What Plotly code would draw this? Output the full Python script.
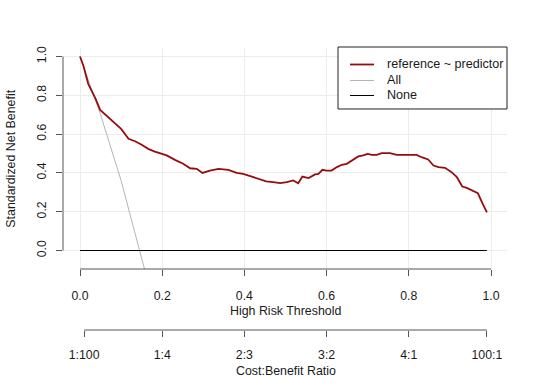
import plotly.graph_objects as go

# ---- data ----
threshold = [0, 0.008, 0.020, 0.028, 0.038, 0.049, 0.061, 0.073, 0.085, 0.100, 0.118, 0.134,
             0.150, 0.166, 0.182, 0.199, 0.211, 0.231, 0.251, 0.268, 0.284, 0.298, 0.316, 0.337,
             0.361, 0.381, 0.397, 0.418, 0.438, 0.453, 0.470, 0.487, 0.503, 0.519, 0.531, 0.541,
             0.556, 0.572, 0.580, 0.590, 0.600, 0.612, 0.625, 0.637, 0.649, 0.661, 0.677, 0.689,
             0.700, 0.710, 0.722, 0.734, 0.754, 0.771, 0.791, 0.819, 0.831, 0.847, 0.860, 0.872,
             0.888, 0.904, 0.917, 0.930, 0.941, 0.955, 0.968, 0.979, 0.990]
snb_model = [1.0, 0.954, 0.859, 0.825, 0.782, 0.725, 0.701, 0.679, 0.656, 0.627, 0.576, 0.563,
             0.545, 0.524, 0.510, 0.498, 0.490, 0.467, 0.447, 0.424, 0.421, 0.400, 0.412, 0.421,
             0.416, 0.400, 0.395, 0.381, 0.369, 0.356, 0.352, 0.347, 0.352, 0.361, 0.347, 0.381,
             0.373, 0.392, 0.395, 0.416, 0.412, 0.412, 0.430, 0.442, 0.447, 0.464, 0.485, 0.490,
             0.498, 0.493, 0.493, 0.502, 0.502, 0.493, 0.493, 0.493, 0.481, 0.469, 0.438, 0.430,
             0.426, 0.404, 0.378, 0.330, 0.323, 0.309, 0.295, 0.244, 0.197]
all_threshold = [0, 0.05, 0.10, 0.15, 0.20]
snb_all = [1.0, 0.70, 0.36, -0.016, -0.44]
none_threshold = [0, 0.99]
snb_none = [0, 0]

x_ticks = [0, 0.2, 0.4, 0.6, 0.8, 1.0]
x_ticktext = ["0.0", "0.2", "0.4", "0.6", "0.8", "1.0"]
y_ticks = [0, 0.2, 0.4, 0.6, 0.8, 1.0]
y_ticktext = ["0.0", "0.2", "0.4", "0.6", "0.8", "1.0"]
cb_ticks = [0.01, 0.2, 0.4, 0.6, 0.8, 0.99]
cb_ticktext = ["1:100", "1:4", "2:3", "3:2", "4:1", "100:1"]

series_names = ["reference ~ predictor", "All", "None"]
series_colors = ["#960d10", "#b4b4b4", "#000000"]
series_widths = [1.8, 1, 1]

FONT = "Liberation Sans, Arial, sans-serif"
TXT = "#1a1a1a"
AX = "#555555"
GRID = "#ececec"

fig = go.Figure()
fig.add_trace(go.Scatter(x=all_threshold, y=snb_all, mode="lines", name=series_names[1],
                         line=dict(color=series_colors[1], width=series_widths[1]),
                         showlegend=False, hoverinfo="skip"))
fig.add_trace(go.Scatter(x=none_threshold, y=snb_none, mode="lines", name=series_names[2],
                         line=dict(color=series_colors[2], width=series_widths[2]),
                         showlegend=False, hoverinfo="skip"))
fig.add_trace(go.Scatter(x=threshold, y=snb_model, mode="lines", name=series_names[0],
                         line=dict(color=series_colors[0], width=series_widths[0]),
                         showlegend=False, hoverinfo="skip"))
# invisible trace to carry the cost:benefit axis
fig.add_trace(go.Scatter(x=cb_ticks, y=[0] * len(cb_ticks), xaxis="x2", yaxis="y",
                         mode="markers", marker=dict(opacity=0), showlegend=False,
                         hoverinfo="skip"))

xr = [-0.0414, 1.0389]
yr = [-0.0953, 1.0438]

fig.update_layout(
    width=540, height=386,
    margin=dict(l=63, r=33, t=48, b=56),
    paper_bgcolor="white", plot_bgcolor="white",
    font=dict(family=FONT, size=12, color=TXT),
    showlegend=False,
    xaxis=dict(range=xr, anchor="y", tickvals=x_ticks, ticktext=x_ticktext,
               ticks="outside", ticklen=6, tickcolor=AX, tickwidth=1,
               showline=False, zeroline=False, showgrid=True, gridcolor=GRID,
               ticklabelstandoff=9, tickfont=dict(family=FONT, size=12.3, color=TXT)),
    yaxis=dict(range=yr, domain=[0.2163, 1], tickvals=y_ticks, ticktext=y_ticktext,
               ticks="outside", ticklen=6, tickcolor=AX, tickwidth=1, tickangle=-90,
               showline=False, zeroline=False, showgrid=True, gridcolor=GRID,
               ticklabelstandoff=5, tickfont=dict(family=FONT, size=12.3, color=TXT)),
    xaxis2=dict(range=xr, overlaying="x", anchor="free", position=0, side="bottom",
                tickvals=cb_ticks, ticktext=cb_ticktext,
                ticks="outside", ticklen=6, tickcolor=AX, tickwidth=1,
                showline=False, zeroline=False, showgrid=False,
                ticklabelstandoff=7, tickfont=dict(family=FONT, size=12.3, color=TXT)),
)

shapes = [
    # axis lines spanning the tick range, as in base R
    dict(type="line", xref="x", yref="y domain", x0=x_ticks[0], x1=x_ticks[-1], y0=0, y1=0,
         line=dict(color=AX, width=1)),
    dict(type="line", xref="x domain", yref="y", x0=0, x1=0, y0=y_ticks[0], y1=y_ticks[-1],
         line=dict(color=AX, width=1)),
    dict(type="line", xref="x", yref="paper", x0=cb_ticks[0], x1=cb_ticks[-1], y0=0, y1=0,
         line=dict(color=AX, width=1)),
    # legend box
    dict(type="rect", xref="paper", yref="paper", x0=0.6194, x1=1.0, y0=0.7837, y1=1.0035,
         line=dict(color="#222222", width=1), fillcolor="white", layer="above"),
]
annotations = [
    dict(text="High Risk Threshold", xref="x", yref="paper", x=0.5, y=0.0674,
         showarrow=False, xanchor="center", yanchor="middle",
         font=dict(family=FONT, size=12.4, color=TXT)),
    dict(text="Cost:Benefit Ratio", xref="x", yref="paper", x=0.5, y=-0.1454,
         showarrow=False, xanchor="center", yanchor="middle",
         font=dict(family=FONT, size=12.4, color=TXT)),
    dict(text="Standardized Net Benefit", xref="paper", yref="y domain", x=-0.119, y=0.5,
         textangle=-90, showarrow=False, xanchor="center", yanchor="middle",
         font=dict(family=FONT, size=12.4, color=TXT)),
]
leg_rows = [0.9415, 0.8848, 0.8316]
for name, col, w, yy in zip(series_names, series_colors, series_widths, leg_rows):
    shapes.append(dict(type="line", xref="paper", yref="paper", x0=0.6464, x1=0.7005,
                       y0=yy, y1=yy, line=dict(color=col, width=w), layer="above"))
    annotations.append(dict(text=name, xref="paper", yref="paper", x=0.7252, y=yy,
                            showarrow=False, xanchor="left", yanchor="middle",
                            font=dict(family=FONT, size=12.6, color=TXT)))

fig.update_layout(shapes=shapes, annotations=annotations)
# remove the browser's default 8px body margin so the figure sits at the window's corner
fig.write_html("out.html", config={"displayModeBar": False},
               post_script="document.body.style.margin='0';")
